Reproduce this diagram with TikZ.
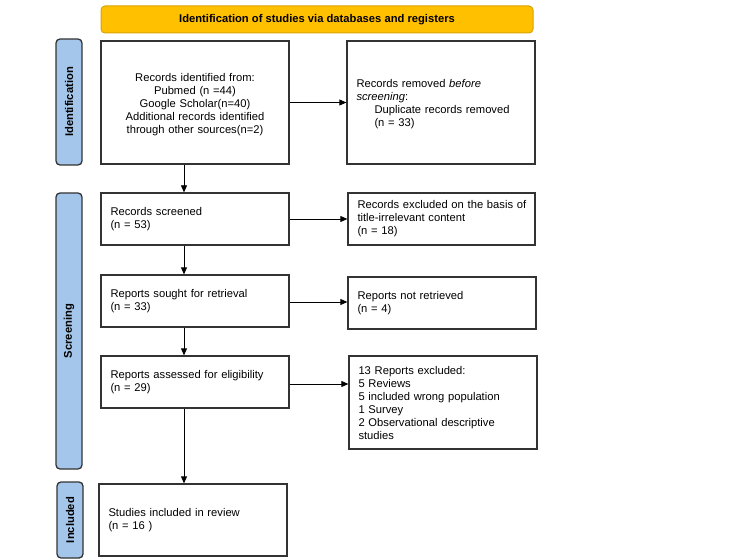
\documentclass[tikz,border=0pt]{standalone}
\usepackage{fontspec}
\setmainfont{Liberation Sans}
\usetikzlibrary{arrows.meta}
\definecolor{boxline}{HTML}{333333}
\definecolor{sidefill}{HTML}{A4C6EA}
\definecolor{titlefill}{HTML}{FFC000}
\definecolor{titleline}{HTML}{D9A300}
\newcommand{\tallstrut}{\rule{0pt}{12pt}}
\tikzset{
  box/.style={draw=boxline, line width=1.3pt, fill=white, inner xsep=9.5pt, inner ysep=0pt,
    font=\fontsize{11.2}{13}\selectfont, align=left, anchor=center},
  side/.style={draw=boxline, line width=1.3pt, fill=sidefill, rounded corners=4pt, inner sep=0pt,
    font=\fontsize{11.2}{13}\selectfont\bfseries, anchor=center},
  sidelabel/.style={rotate=90, font=\fontsize{11.2}{13}\selectfont\bfseries, anchor=center},
  arr/.style={draw=black, line width=0.8pt, -{Triangle[length=7pt,width=6pt]}}
}
\begin{document}
\begin{tikzpicture}[x=1pt,y=-1pt]
\useasboundingbox (0,0) rectangle (750,559);
% title
\node[draw=titleline, line width=1pt, fill=titlefill, rounded corners=4pt, minimum width=432pt, minimum height=27pt, inner sep=0pt,
  font=\fontsize{11.2}{13}\selectfont\bfseries] (title) at (317,19.5) {Identification of studies via databases and registers};
% side bars
\node[side, minimum width=26pt, minimum height=126pt] (s1) at (69,102) {};
\node[sidelabel] (s1t) at (s1.center) {Identification};
\node[side, minimum width=26pt, minimum height=276pt] (s2) at (69,331) {};
\node[sidelabel] (s2t) at (s2.center) {Screening};
\node[side, minimum width=26pt, minimum height=76pt] (s3) at (70,520) {};
\node[sidelabel] (s3t) at (s3.center) {Included};
% boxes
\node[box, text width=169pt, minimum height=123pt, align=center] (b1) at (195,102.5)
  {\tallstrut Records identified from:\hspace*{18pt}\\ Pubmed (n =44)\\ Google Scholar(n=40)\\ Additional records identified\\ through other sources(n=2)};
\node[box, text width=169pt, minimum height=123pt] (r1) at (441,102.5)
  {\tallstrut Records removed \textit{before}\\ \textit{screening}:\\ \hspace*{18pt}Duplicate records removed\\ \hspace*{18pt}(n = 33)};
\node[box, text width=169pt, minimum height=52pt] (b2) at (195,219) {Records screened\\ (n = 53)};
\node[box, text width=168pt, minimum height=52pt] (r2) at (441.5,219) {\mbox{Records excluded on the basis of}\\ title-irrelevant content\\ (n = 18)};
\node[box, text width=169pt, minimum height=52pt] (b3) at (195,301) {Reports sought for retrieval\\ (n = 33)};
\node[box, text width=169pt, minimum height=52pt] (r3) at (442,303) {Reports not retrieved\\ (n = 4)};
\node[box, text width=169pt, minimum height=52pt] (b4) at (195,382) {Reports assessed for eligibility\\ (n = 29)};
\node[box, text width=169pt, minimum height=93pt] (r4) at (443,402.5) {13 Reports excluded:\\ 5 Reviews\\ 5 included wrong population\\ 1 Survey\\ 2 Observational descriptive\\ studies};
\node[box, text width=169pt, minimum height=72pt] (b5) at (193,520) {Studies included in review\\ (n = 16 )};
% connectors
\coordinate (ax) at (184,0);
\draw[arr] (b1.south -| ax) -- (b2.north -| ax);
\draw[arr] (b2.south -| ax) -- (b3.north -| ax);
\draw[arr] (b3.south -| ax) -- (b4.north -| ax);
\draw[arr] (b4.south -| ax) -- (b5.north -| ax);
\draw[arr] (b1.east) -- (b1.east -| r1.west);
\draw[arr] (b2.east) -- (b2.east -| r2.west);
\draw[arr] (b3.east) ++(0,1) coordinate (c3) -- (c3 -| r3.west);
\draw[arr] (b4.east) ++(0,2) coordinate (c4) -- (c4 -| r4.west);
\end{tikzpicture}
\end{document}
